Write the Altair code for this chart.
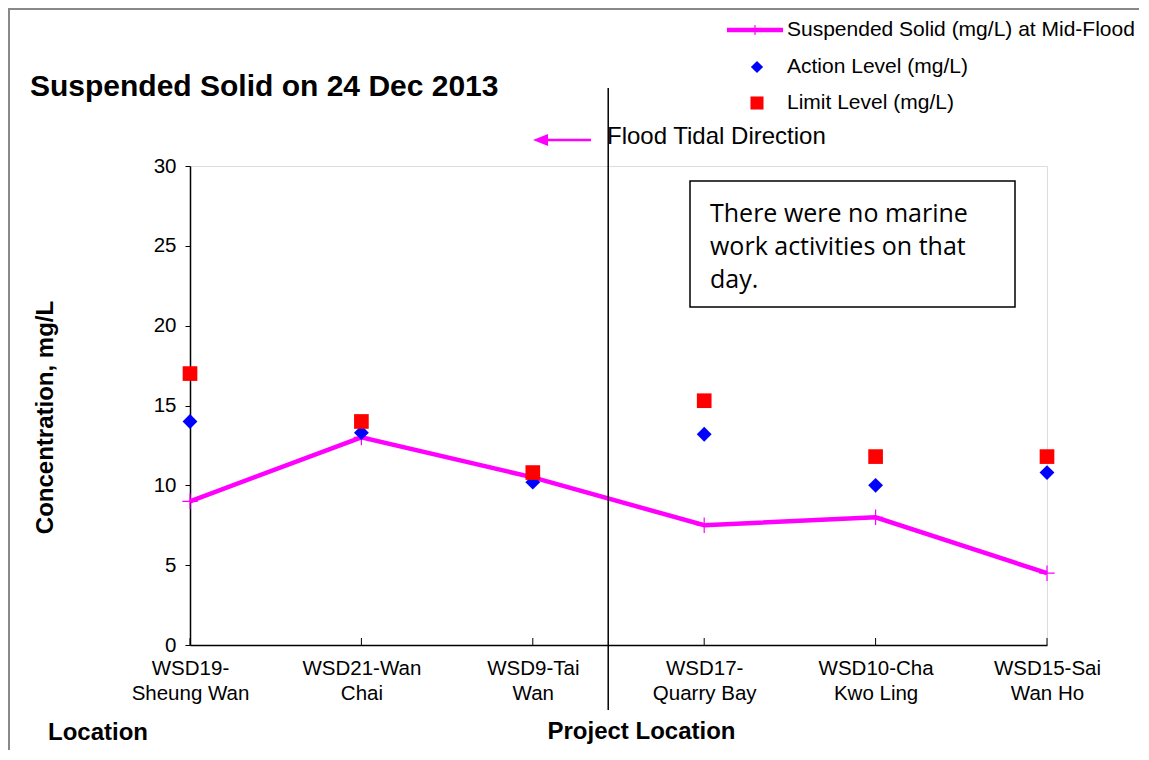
import json
import altair as alt
import pandas as pd

# ---- data ----
locations = ["WSD19-Sheung Wan", "WSD21-Wan Chai", "WSD9-Tai Wan",
             "WSD17-Quarry Bay", "WSD10-Cha Kwo Ling", "WSD15-Sai Wan Ho"]
label_lines = [["WSD19-", "Sheung Wan"], ["WSD21-Wan", "Chai"], ["WSD9-Tai", "Wan"],
               ["WSD17-", "Quarry Bay"], ["WSD10-Cha", "Kwo Ling"], ["WSD15-Sai", "Wan Ho"]]
ss_mid_flood = [9.0, 13.0, 10.5, 7.5, 8.0, 4.5]
action_level = [14.0, 13.3, 10.2, 13.2, 10.0, 10.8]
limit_level = [17.0, 14.0, 10.8, 15.3, 11.8, 11.8]
divider_pos = [2.44]
y_ticks = [0, 5, 10, 15, 20, 25, 30]

df = pd.DataFrame({
    "idx": list(range(len(locations))),
    "location": locations,
    "ss": ss_mid_flood,
    "action": action_level,
    "limit": limit_level,
})
one = pd.DataFrame({"k": [0]})  # single row for annotations

W, H = 857, 479
FONT = "Liberation Sans"
MAG = "#FF00FF"

label_expr = json.dumps(label_lines) + "[datum.value]"

x_enc = alt.X("idx:Q", scale=alt.Scale(domain=[0, 5], nice=False),
              axis=alt.Axis(values=list(range(6)), labelExpr=label_expr, ticks=False,
                            grid=False,
                            labelPadding=13, labelLineHeight=25, labelFontSize=20.5,
                            labelFont=FONT, labelColor="black", labelFlush=False,
                            domainColor="black", domainWidth=1.5,
                            title="Project Location", titleFont=FONT, titleFontSize=24,
                            titleFontWeight="bold", titleX=451, titleY=86,
                            titleBaseline="middle", titleAlign="center"))
y_scale = alt.Scale(domain=[0, 30], nice=False)
y_axis = alt.Axis(values=y_ticks, tickSize=5, tickColor="black", labelPadding=9,
                  labelFontSize=20.5, labelFont=FONT, labelColor="black",
                  domainColor="black", domainWidth=1.5, grid=False,
                  title="Concentration, mg/L", titleFont=FONT, titleFontSize=24,
                  titleFontWeight="bold", titleX=-145, titleY=251,
                  titleAlign="center", titleBaseline="middle")

base = alt.Chart(df)

line = base.mark_line(color=MAG, strokeWidth=4.5).encode(
    x=x_enc, y=alt.Y("ss:Q", scale=y_scale, axis=y_axis))
plus = base.mark_point(shape="M-1,0H1M0,-1V1", filled=False, size=240,
                       strokeWidth=1.2, color=MAG, opacity=1).encode(
    x="idx:Q", y=alt.Y("ss:Q"))
action = base.mark_point(shape="diamond", filled=True, size=220, color="#0000FF",
                         opacity=1).encode(x="idx:Q", y=alt.Y("action:Q"))
limit = base.mark_point(shape="square", filled=True, size=215, color="#FF0000",
                        opacity=1).encode(x="idx:Q", y=alt.Y("limit:Q"))
xticks = base.mark_rule(color="black", strokeWidth=1).encode(
    x="idx:Q", y=alt.value(H - 7), y2=alt.value(H))

div_df = pd.DataFrame({"pos": divider_pos})
divider = alt.Chart(div_df).mark_rule(color="black", strokeWidth=1.5).encode(
    x="pos:Q", y=alt.value(-78), y2=alt.value(544))

A = alt.Chart(one)

# outer frame
frame = A.mark_rect(fill=None, stroke="#888888", strokeWidth=2).encode(
    x=alt.value(-181), x2=alt.value(1000), y=alt.value(-157), y2=alt.value(700))

# title and side texts
title = A.mark_text(text="Suspended Solid on 24 Dec 2013", font=FONT,
                    fontSize=30, fontWeight="bold", align="left",
                    baseline="middle", color="black").encode(
    x=alt.value(-160), y=alt.value(-79))
loc_text = A.mark_text(text="Location", font=FONT, fontSize=24,
                       fontWeight="bold", align="left", baseline="middle",
                       color="black").encode(
    x=alt.value(-142), y=alt.value(H + 88))

# flood tidal direction arrow
arrow_line = A.mark_rule(color=MAG, strokeWidth=2.5).encode(
    x=alt.value(352), x2=alt.value(401), y=alt.value(-26))
arrow_head = A.mark_point(shape="M-1,0L1,-0.8L1,0.8Z", filled=True, size=225,
                          color=MAG, opacity=1).encode(
    x=alt.value(350.5), y=alt.value(-26))
flood_text = A.mark_text(text="Flood Tidal Direction", font=FONT,
                         fontSize=24, align="left", baseline="middle",
                         color="black").encode(
    x=alt.value(417), y=alt.value(-29))

# note box
box = A.mark_rect(fill="white", stroke="black", strokeWidth=1.5).encode(
    x=alt.value(500), x2=alt.value(825), y=alt.value(15), y2=alt.value(141))
box_text = A.mark_text(
    text=["There were no marine", "work activities on that", "day."],
    font="Open Sans", fontSize=25, lineHeight=33, align="left", baseline="middle",
    color="black").encode(x=alt.value(520), y=alt.value(48))

# manual legend
leg_line = A.mark_rule(color=MAG, strokeWidth=4.5).encode(
    x=alt.value(537), x2=alt.value(593), y=alt.value(-136))
leg_plus = A.mark_point(shape="M-1,0H1M0,-1V1", filled=False, size=100,
                        strokeWidth=1.2, color=MAG, opacity=1).encode(
    x=alt.value(565), y=alt.value(-136))
leg_diamond = A.mark_point(shape="diamond", filled=True, size=150,
                           color="#0000FF", opacity=1).encode(
    x=alt.value(567), y=alt.value(-99))
leg_square = A.mark_point(shape="square", filled=True, size=170,
                          color="#FF0000", opacity=1).encode(
    x=alt.value(567), y=alt.value(-63))
leg_t1 = A.mark_text(text="Suspended Solid (mg/L) at Mid-Flood", font=FONT,
                     fontSize=21, align="left", baseline="middle",
                     color="black").encode(x=alt.value(597), y=alt.value(-136))
leg_t2 = A.mark_text(text="Action Level (mg/L)", font=FONT, fontSize=21,
                     align="left", baseline="middle",
                     color="black").encode(x=alt.value(597), y=alt.value(-99))
leg_t3 = A.mark_text(text="Limit Level (mg/L)", font=FONT, fontSize=21,
                     align="left", baseline="middle",
                     color="black").encode(x=alt.value(597), y=alt.value(-63))

chart = alt.layer(
    frame, box, box_text, line, plus, action, limit, xticks, divider,
    title, loc_text, arrow_line, arrow_head, flood_text,
    leg_line, leg_plus, leg_diamond, leg_square, leg_t1, leg_t2, leg_t3,
).properties(
    width=W, height=H,
    autosize=alt.AutoSizeParams(type="none"),
    padding={"left": 182, "top": 158, "right": 92, "bottom": 105},
).configure_view(
    stroke="#888888", strokeWidth=1.5
).configure(background="white")

chart.save("out.html", embed_options={"renderer": "svg", "actions": False})
